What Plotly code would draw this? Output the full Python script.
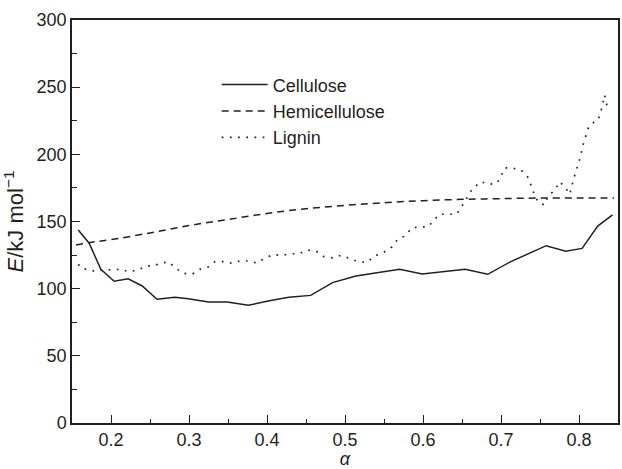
import plotly.graph_objects as go

# Activation energy E versus conversion alpha for the three biomass components
cellulose_alpha = [0.158, 0.172, 0.187, 0.204, 0.222, 0.240, 0.259, 0.282, 0.299, 0.325,
                   0.349, 0.376, 0.403, 0.428, 0.456, 0.484, 0.514, 0.543, 0.570, 0.599,
                   0.626, 0.654, 0.683, 0.712, 0.758, 0.783, 0.804, 0.824, 0.843]
cellulose_E = [143.7, 133.8, 114.4, 105.5, 107.4, 102.0, 92.1, 93.6, 92.5, 90.0,
               90.0, 87.6, 91.0, 93.6, 95.0, 104.5, 109.4, 111.9, 114.4, 110.9,
               112.4, 114.4, 110.7, 120.0, 132.0, 127.8, 130.0, 146.6, 155.0]

hemicellulose_alpha = [0.155, 0.175, 0.20, 0.25, 0.30, 0.35, 0.40, 0.45, 0.50, 0.55,
                       0.60, 0.65, 0.70, 0.75, 0.80, 0.845]
hemicellulose_E = [132.5, 134.5, 136.5, 141.5, 147.0, 151.5, 156.0, 159.5, 162.0, 164.0,
                   165.5, 166.5, 167.0, 167.5, 167.5, 167.5]

lignin_alpha = [0.158, 0.164, 0.172, 0.179, 0.191, 0.203, 0.213, 0.223, 0.235, 0.245,
                0.254, 0.264, 0.274, 0.283, 0.293, 0.304, 0.314, 0.324, 0.333, 0.343,
                0.355, 0.365, 0.376, 0.387, 0.398, 0.408, 0.419, 0.430, 0.441, 0.452,
                0.463, 0.473, 0.484, 0.495, 0.506, 0.517, 0.528, 0.538, 0.549, 0.560,
                0.568, 0.577, 0.586, 0.607, 0.615, 0.621, 0.632, 0.643, 0.650, 0.656,
                0.663, 0.674, 0.685, 0.695, 0.700, 0.705, 0.716, 0.726, 0.735, 0.739,
                0.743, 0.748, 0.756, 0.760, 0.769, 0.775, 0.782, 0.788, 0.794, 0.801,
                0.806, 0.813, 0.819, 0.824, 0.828, 0.833, 0.835, 0.838]
lignin_E = [118.1, 114.6, 114.4, 112.9, 113.9, 113.9, 114.4, 112.6, 113.9, 116.9,
            116.9, 119.1, 119.9, 115.2, 111.4, 110.7, 114.4, 115.9, 120.1, 120.1,
            118.9, 120.6, 120.6, 119.1, 123.0, 125.3, 124.8, 126.0, 126.0, 128.8,
            128.0, 123.8, 123.0, 124.8, 122.3, 120.1, 119.6, 124.3, 126.8, 131.0,
            137.0, 139.2, 145.4, 146.2, 151.6, 155.4, 155.4, 155.4, 161.5, 167.3,
            174.0, 179.6, 177.7, 178.4, 184.6, 190.0, 189.6, 188.3, 182.6, 175.9,
            169.7, 164.0, 162.3, 168.5, 173.5, 179.6, 175.9, 170.2, 183.4, 196.5,
            208.7, 221.3, 223.8, 225.0, 231.7, 244.2, 238.0, 232.5]

x_tickvals = [0.2, 0.3, 0.4, 0.5, 0.6, 0.7, 0.8]
y_tickvals = [0, 50, 100, 150, 200, 250, 300]

INK = "#231f20"
FONT = "Liberation Sans, Arial, Helvetica, sans-serif"

fig = go.Figure()
fig.add_trace(go.Scatter(x=cellulose_alpha, y=cellulose_E, mode="lines", name="Cellulose",
                         legendgroup="c", line=dict(color=INK, width=1.5)))
fig.add_trace(go.Scatter(x=hemicellulose_alpha, y=hemicellulose_E, mode="lines",
                         name="Hemicellulose", legendgroup="h", line_shape="spline",
                         line=dict(color=INK, width=1.5, dash="7px,5px")))
fig.add_trace(go.Scatter(x=lignin_alpha, y=lignin_E, mode="lines", name="Lignin",
                         legendgroup="l",
                         line=dict(color=INK, width=1.7, dash="1.7px,6.5px")))

axis_common = dict(showgrid=False, zeroline=False, showline=True, linecolor=INK,
                   linewidth=1.5, ticks="inside", tickcolor=INK, tickwidth=1.3,
                   ticklen=8, tickfont=dict(family=FONT, size=18, color=INK))

fig.update_layout(
    width=622, height=469,
    margin=dict(l=72, r=2, t=20, b=46),
    plot_bgcolor="white", paper_bgcolor="white",
    font=dict(family=FONT, size=18, color=INK),
    xaxis=dict(range=[0.15, 0.85], tickvals=x_tickvals,
               ticktext=[f"{v:.1f}" for v in x_tickvals], mirror=True,
               minor=dict(ticks="inside", dtick=0.05, tick0=0.15, ticklen=4,
                          tickcolor=INK, tickwidth=1.2),
               title=dict(text="<i>α</i>", standoff=3, font=dict(size=18)),
               **axis_common),
    yaxis=dict(range=[0, 300], tickvals=y_tickvals, mirror=True,
               minor=dict(ticks="inside", dtick=25, tick0=0, ticklen=5,
                          tickcolor=INK, tickwidth=1.2),
               title=dict(text="<i>E</i>/kJ mol<sup>−1</sup>", standoff=8),
               **axis_common),
    xaxis2=dict(overlaying="x", side="top", anchor="y", range=[0.15, 0.85],
                tickvals=[0.15 + 0.05 * i for i in range(15)], ticks="inside",
                ticklen=2, tickcolor=INK, showticklabels=False, showgrid=False,
                zeroline=False),
    yaxis2=dict(overlaying="y", side="right", anchor="x", range=[0, 300],
                tickvals=[25 * i for i in range(13)], ticks="inside", ticklen=3,
                tickcolor=INK, showticklabels=False, showgrid=False, zeroline=False),
    legend=dict(x=0.265, y=0.885, xanchor="left", yanchor="top",
                bgcolor="rgba(0,0,0,0)", borderwidth=0, itemwidth=46,
                tracegroupgap=0, font=dict(family=FONT, size=18, color=INK)),
    showlegend=True,
)

fig.write_html("out.html")
